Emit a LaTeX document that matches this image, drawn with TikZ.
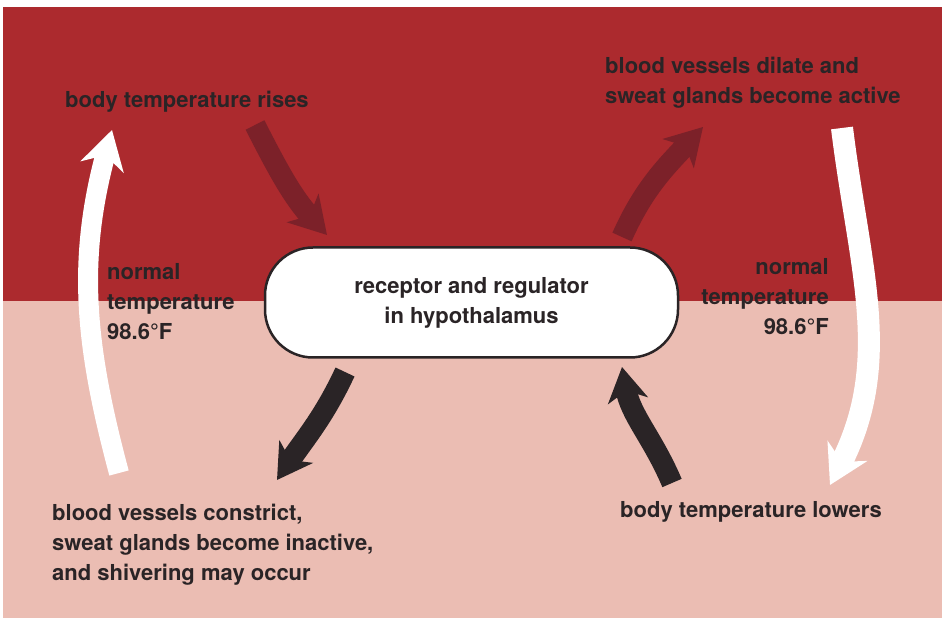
\documentclass[tikz,border=0pt]{standalone}
\usepackage{fontspec}
\setmainfont{TeX Gyre Heros}
\usepackage{tikz}
\usetikzlibrary{arrows.meta,positioning}
\definecolor{HTRed}{HTML}{AC2A2E}
\definecolor{HTPink}{HTML}{EBBDB3}
\definecolor{HTShade}{HTML}{7C2129}
\definecolor{HTInk}{HTML}{2A2426}

\begin{document}
\begin{tikzpicture}[x=1pt,y=1pt,
  lbl/.style={font=\fontsize{22}{30}\selectfont\bfseries,text=HTInk,inner sep=0pt},
  hub/.style={draw=HTInk,line width=2.5pt,fill=white,rounded corners=48pt,minimum width=413pt,minimum height=110pt,align=center,font=\fontsize{22}{30}\selectfont\bfseries,text=HTInk},
  warm/.style={line width=21pt,draw=HTShade,-{Stealth[length=36pt,width=42pt,inset=10pt]}},
  cool/.style={line width=21pt,draw=HTInk,-{Stealth[length=34pt,width=40pt,inset=10pt]}},
  whitearc/.style={line width=20pt,draw=white,-{Stealth[length=38pt,width=44pt,inset=12pt]}}
]
\useasboundingbox (0,0) rectangle (942,618);
% background: hot half above, cool half below
\fill[white] (0,0) rectangle (942,618);
\fill[HTRed] (3,317) rectangle (942,611);
\fill[HTPink] (3,0) rectangle (942,317);

\node[hub] (hypo) at (471.5,315.5) {receptor and regulator\\in hypothalamus};

\node[lbl,anchor=west] (rises) at (65,516) {body temperature rises};
\node[lbl,anchor=west,align=left] (dilate) at (605,535) {blood vessels dilate and\\sweat glands become active};
\node[lbl,anchor=west,align=left] (normL) at (107,316) {normal\\temperature\\98.6°F};
\node[lbl,anchor=east,align=right] (normR) at (829,321) {normal\\temperature\\98.6°F};
\node[lbl,anchor=west,align=left] (constrict) at (52,73) {blood vessels constrict,\\sweat glands become inactive,\\and shivering may occur};
\node[lbl,anchor=west] (lowers) at (620,106) {body temperature lowers};

% arrow ends
\coordinate (riseFrom) at (255,493);
\coordinate (riseTo) at (327,383);
\coordinate (dilFrom) at (622,381);
\coordinate (dilTo) at (703,491);
\coordinate (conFrom) at (345,246);
\coordinate (conTo) at (277,138);
\coordinate (lowFrom) at (672,135);
\coordinate (lowTo) at (622,251);
\coordinate (upFrom) at (119,145);
\coordinate (upTo) at (112,488);
\coordinate (downFrom) at (842,490);
\coordinate (downTo) at (830,133);

\draw[whitearc] (upFrom) to[out=105,in=-105] (upTo);
\draw[whitearc,line width=22pt] (downFrom) to[out=-83,in=63] (downTo);
\draw[warm] (riseFrom) to[out=-63,in=132] (riseTo);
\draw[warm] (dilFrom) to[out=66,in=-133] (dilTo);
\draw[cool] (conFrom) to[out=-115,in=56] (conTo);
\draw[cool] (lowFrom) to[out=113,in=-80] (lowTo);
\end{tikzpicture}
\end{document}
